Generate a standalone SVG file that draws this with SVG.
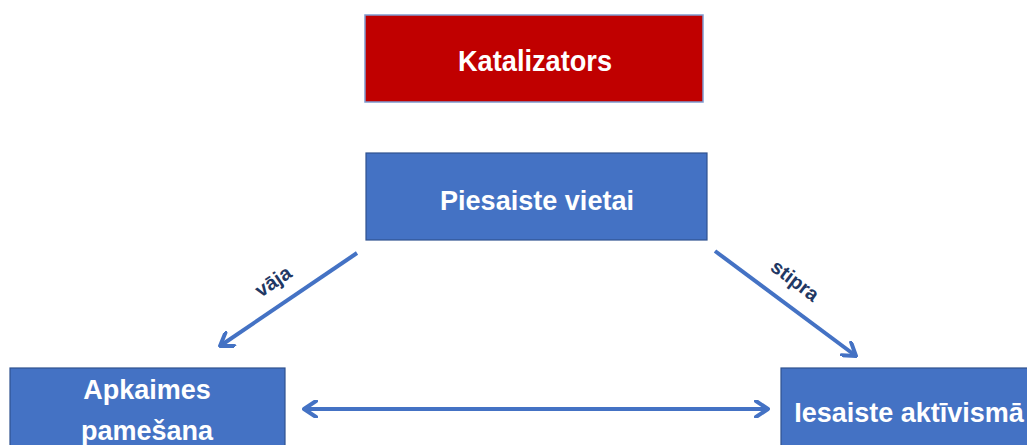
<svg xmlns="http://www.w3.org/2000/svg" width="1027" height="445" viewBox="0 0 1027 445">
<style>
.box{fill:#4472C4;stroke:#2F528F;stroke-width:1.2}
.red{fill:#C00000;stroke:#7F9BD0;stroke-width:1.5}
.t{font-family:"Liberation Sans",Arial,sans-serif;font-weight:bold;fill:#fff;text-anchor:middle}
.lbl{font-family:"Liberation Sans",Arial,sans-serif;font-weight:bold;fill:#1F3864;font-size:20px;text-anchor:middle}
.c{stroke:#4472C4;stroke-width:4;fill:none}
</style>
<defs>
<marker id="ah" viewBox="-14 -9 16 18" refX="0" refY="0" markerWidth="16" markerHeight="18" markerUnits="userSpaceOnUse" orient="auto-start-reverse">
<path d="M-12,-8 L0,0 L-12,8" fill="none" stroke="#4472C4" stroke-width="4" stroke-linecap="round" stroke-linejoin="round"/>
</marker>
</defs>
<rect width="1027" height="445" fill="#fff"/>
<g id="connectors">
<line class="c" x1="357" y1="253" x2="220" y2="346" marker-end="url(#ah)"/>
<line class="c" x1="715" y1="251" x2="856" y2="356" marker-end="url(#ah)"/>
<line class="c" x1="304" y1="409" x2="768" y2="409" marker-start="url(#ah)" marker-end="url(#ah)"/>
<text class="lbl" transform="translate(277,287) rotate(-34)">vāja</text>
<text class="lbl" transform="translate(791,286) rotate(37)">stipra</text>
</g>
<g id="katalizators">
<rect class="red" x="365" y="15" width="338" height="87"/>
<text class="t" x="535" y="71" font-size="29" textLength="154" lengthAdjust="spacingAndGlyphs">Katalizators</text>
</g>
<g id="piesaiste">
<rect class="box" x="366" y="153" width="341" height="87"/>
<text class="t" x="537" y="210" font-size="28" textLength="194" lengthAdjust="spacingAndGlyphs">Piesaiste vietai</text>
</g>
<g id="apkaimes">
<rect class="box" x="10" y="368" width="275" height="90"/>
<text class="t" x="147" y="399" font-size="27">Apkaimes</text>
<text class="t" x="147" y="440" font-size="27">pamešana</text>
</g>
<g id="iesaiste">
<rect class="box" x="781" y="368" width="260" height="90"/>
<text class="t" x="909" y="422" font-size="27">Iesaiste aktīvismā</text>
</g>
</svg>
